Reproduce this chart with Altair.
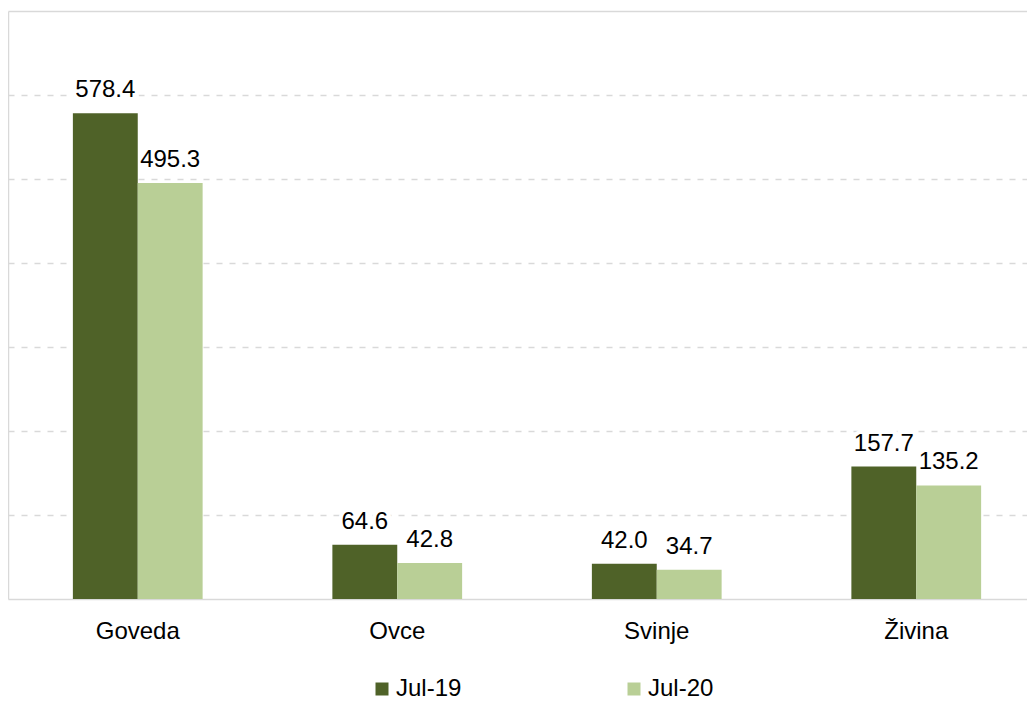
import altair as alt
import pandas as pd

categories = ["Goveda", "Ovce", "Svinje", "Živina"]
series = ["Jul-19", "Jul-20"]
jul19 = [578.4, 64.6, 42.0, 157.7]
jul20 = [495.3, 42.8, 34.7, 135.2]

rows = []
for c, a, b in zip(categories, jul19, jul20):
    rows.append({"kategorija": c, "period": series[0], "vrijednost": a, "oznaka": f"{a:.1f}"})
    rows.append({"kategorija": c, "period": series[1], "vrijednost": b, "oznaka": f"{b:.1f}"})
df = pd.DataFrame(rows)

FONT = "Liberation Sans"
FS = 24
colors = ["#4f6228", "#b9cf96"]

x = alt.X("kategorija:N", sort=categories, title=None,
          scale=alt.Scale(paddingInner=0.5, paddingOuter=0.25, range=[0, 1038]),
          axis=alt.Axis(labelAngle=0, labelFontSize=FS, labelFont=FONT, labelColor="#000000",
                        ticks=False, tickSize=0, labelPadding=20,
                        domainColor="#d9d9d9", domainWidth=1.5))
xo = alt.XOffset("period:N", sort=series, scale=alt.Scale(paddingInner=0, paddingOuter=0))
y = alt.Y("vrijednost:Q", title=None,
          scale=alt.Scale(domain=[0, 700], nice=False),
          axis=alt.Axis(values=[100, 200, 300, 400, 500, 600, 700], labels=False, ticks=False,
                        domain=True, domainColor="#d9d9d9", domainWidth=1.5,
                        grid=True, gridColor="#d9d9d9",
                        gridDash={"condition": {"test": "datum.value == 700", "value": []},
                                  "value": [6, 7]},
                        gridWidth=1.5))

base = alt.Chart(df)

label_bg = base.mark_text(baseline="alphabetic", dy=-16, fontSize=FS, font=FONT,
                          color="#ffffff", stroke="#ffffff", strokeWidth=8).encode(
    x=x, xOffset=xo, y=y, text="oznaka:N",
)

bars = base.mark_bar().encode(
    x=x, xOffset=xo, y=y,
    color=alt.Color("period:N", sort=series, title=None,
                    scale=alt.Scale(domain=series, range=colors),
                    legend=alt.Legend(orient="none", direction="horizontal", legendX=362, legendY=666,
                                      symbolType="square", symbolSize=169, symbolStrokeWidth=0,
                                      labelFontSize=FS, labelFont=FONT, labelColor="#000000",
                                      labelOffset=2, columnPadding=160, padding=0)),
)

labels = base.mark_text(baseline="alphabetic", dy=-16, fontSize=FS, font=FONT, color="#000000").encode(
    x=x, xOffset=xo, y=y, text="oznaka:N",
)

chart = (label_bg + bars + labels).properties(
    width=1019, height=588,
    autosize=alt.AutoSizeParams(type="none"),
    padding={"left": 0, "top": 3, "right": 0, "bottom": 108},
).configure_view(stroke=None)

chart.save("out.html", embed_options={"renderer": "svg", "actions": False})
